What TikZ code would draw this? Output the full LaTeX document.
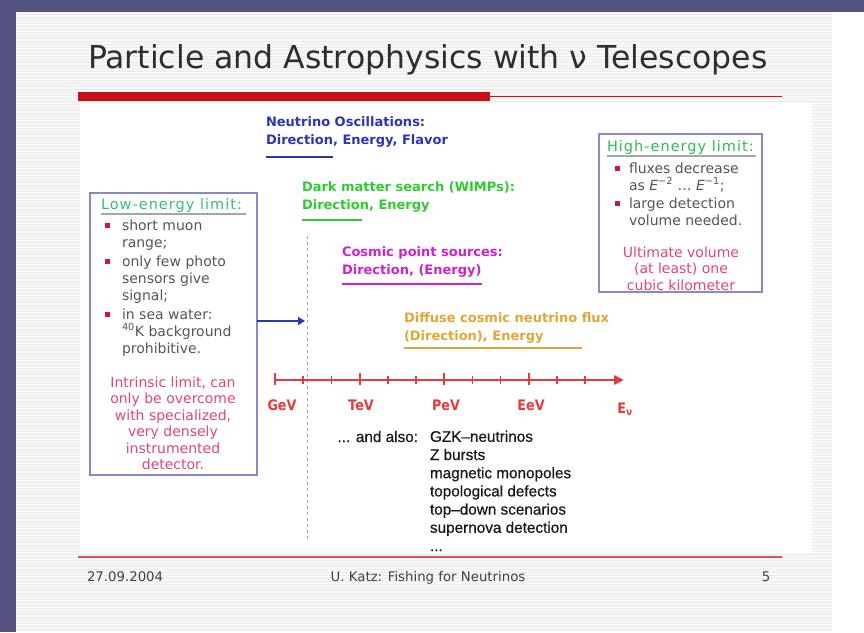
\documentclass[tikz,border=0pt]{standalone}
\usepackage{fontspec}
\setmainfont{DejaVu Sans}
\newfontfamily\condfont[FakeStretch=0.88]{DejaVu Sans}
\newfontfamily\listfont[FakeBold=0.6]{Liberation Sans}
\newfontfamily\headfont[LetterSpace=7]{DejaVu Sans}
\usetikzlibrary{arrows.meta,calc}
\definecolor{bgpurple}{HTML}{54527F}
\definecolor{slidebg}{HTML}{F8F8F8}
\definecolor{stripecol}{HTML}{EBEBEB}
\definecolor{titlegray}{HTML}{2E2E2E}
\definecolor{barred}{HTML}{C8101A}
\definecolor{footred}{HTML}{E05050}
\definecolor{oscblue}{HTML}{2B35B5}
\definecolor{dmgreen}{HTML}{2ECC2E}
\definecolor{cpsmag}{HTML}{CC22CC}
\definecolor{difforange}{HTML}{E3A634}
\definecolor{limgreen}{HTML}{36BB80}
\definecolor{higreen}{HTML}{2FBB55}
\definecolor{boxedge}{HTML}{8A88C8}
\definecolor{bodygray}{HTML}{555555}
\definecolor{pinktext}{HTML}{E0457E}
\definecolor{bulletred}{HTML}{D01538}
\definecolor{axisred}{HTML}{E83A3A}
\definecolor{dashgray}{HTML}{A8A8A8}
\newcommand{\bul}[1]{\llap{\textcolor{bulletred}{\rule[2.5pt]{5pt}{5pt}}\hspace{#1}}}
\begin{document}
\begin{tikzpicture}[x=1pt,y=-1pt,
  every node/.style={inner sep=0pt, outer sep=0pt},
  % multi-line nodes: anchor=base west puts the LAST line's baseline at the point
  toplabel/.style={anchor=base west, align=left, font=\bfseries\fontsize{13}{18}\selectfont},
  limbox/.style={draw=boxedge, line width=1.6pt, fill=white, anchor=north west},
  bodytext/.style={anchor=base west, align=left, text=bodygray, font=\fontsize{14}{17}\selectfont},
  pinkbody/.style={anchor=base, align=center, text=pinktext, font=\fontsize{14}{16.5}\selectfont},
  boxhead/.style={anchor=base west, font=\headfont\fontsize{14.5}{17}\selectfont},
  headrule/.style={draw=gray!70, line width=1.8pt},
  underbar/.style={line width=2.4pt},
  axislabel/.style={anchor=base, text=axisred, font=\condfont\bfseries\fontsize{14.5}{16}\selectfont},
  axisline/.style={draw=axisred, line width=2.6pt},
  ticksty/.style={draw=axisred, line width=1.6pt},
  listtext/.style={anchor=base west, align=left, text=black!90, font=\listfont\fontsize{15.3}{18.2}\selectfont},
  foottext/.style={anchor=base, text=black!75, font=\fontsize{13.3}{16}\selectfont}
]
\useasboundingbox (0,0) rectangle (864,632);
% background and slide
\fill[bgpurple] (0,0) rectangle (864,632);
\fill[slidebg] (16,12) rectangle (864,632);
\foreach \yy in {14,17,...,631} \draw[stripecol, line width=1pt] (16,\yy) -- (832,\yy);
\fill[white] (832,12) rectangle (864,632);
\fill[white] (80,103) rectangle (812,553);

% title and bars
\node[anchor=base west, text=titlegray, font=\fontsize{31.5}{36}\selectfont] (title) at (88,68) {Particle and Astrophysics with ν Telescopes};
\fill[barred] (78,92) rectangle (490,101);
\draw[barred, line width=1.6pt] (490,96.5) -- (782,96.5);
\draw[footred, line width=2.4pt] (78,557) -- (782,557);

% top labels (y = baseline of last line)
\node[toplabel, text=oscblue] (osc) at (266,144) {Neutrino Oscillations:\\Direction, Energy, Flavor};
\draw[oscblue, underbar] (266,157) -- (333,157);
\node[toplabel, text=dmgreen] (dm) at (302,209) {Dark matter search (WIMPs):\\Direction, Energy};
\draw[dmgreen, underbar] (302,220) -- (362,220);
\node[toplabel, text=cpsmag] (cps) at (342,274) {Cosmic point sources:\\Direction, (Energy)};
\draw[cpsmag, underbar] (342,284) -- (482,284);
\node[toplabel, text=difforange] (diff) at (404,340) {Diffuse cosmic neutrino flux\\(Direction), Energy};
\draw[difforange, underbar] (404,348) -- (582,348);

% dashed GeV/TeV guide
\coordinate (dashtop) at (307,236);
\coordinate (dashbot) at (307,542);
\draw[dashgray, line width=1pt, dash pattern=on 3pt off 3pt] (dashtop) -- (dashbot);

% low-energy box
\node[limbox, minimum width=167, minimum height=282] (lowbox) at (90,193) {};
\node[boxhead, text=limgreen] (lowhead) at (101,209) {Low-energy limit:};
\draw[headrule] (101,214) -- (246,214);
\node[bodytext] (lowitems) at (122,353) {\bul{12pt}short muon\\range;\\[2pt]\bul{12pt}only few photo\\sensors give\\signal;\\[2pt]\bul{12pt}in sea water:\\\textsuperscript{40}K background\\prohibitive.};
\node[pinkbody] (lowpink) at (173,469.5) {Intrinsic limit, can\\only be overcome\\with specialized,\\very densely\\instrumented\\detector.};

% high-energy box
\node[limbox, minimum width=163, minimum height=158] (highbox) at (599,134) {};
\node[boxhead, text=higreen] (highhead) at (607,151) {High-energy limit:};
\draw[headrule] (607,156) -- (756,156);
\node[bodytext] (highitems) at (629,225) {\bul{9pt}fluxes decrease\\as \textit{E}\textsuperscript{−2} … \textit{E}\textsuperscript{−1};\\[1pt]\bul{9pt}large detection\\volume needed.};
\node[pinkbody] (highpink) at (681,290) {Ultimate volume\\(at least) one\\cubic kilometer};

% arrow from low-energy box
\coordinate (arrowend) at (305,321);
\draw[oscblue, line width=2.8pt, -{Triangle[length=7pt,width=8pt]}] (lowbox.east |- arrowend) -- (arrowend);

% energy axis
\coordinate (axstart) at (275,380);
\coordinate (axend) at (624,380);
\draw[axisline, -{Triangle[length=10pt,width=9pt]}] (axstart) -- (axend);
\foreach \i in {1,2,4,5,7,8,10,11} \draw[ticksty] ($(axstart)+(28.2*\i,-4)$) -- ($(axstart)+(28.2*\i,4)$);
\foreach \i in {0,3,6,9} \draw[ticksty, line width=2pt] ($(axstart)+(28.2*\i,-7)$) -- ($(axstart)+(28.2*\i,5)$);
\node[axislabel] (gev) at (282,410) {GeV};
\node[axislabel] (tev) at (361,410) {TeV};
\node[axislabel] (pev) at (446,410) {PeV};
\node[axislabel] (eev) at (531,410) {EeV};
\node[axislabel] (enu) at (625,413) {E\textsubscript{ν}};

% and also list
\node[listtext, anchor=base east] (andalso) at (418,442) {... and also:};
\node[listtext] (alsolist) at (430,551) {GZK–neutrinos\\Z bursts\\magnetic monopoles\\topological defects\\top–down scenarios\\supernova detection\\...};

% footer
\node[foottext, anchor=base west] (date) at (87,581) {27.09.2004};
\node[foottext] (author) at (428,581) {U. Katz: Fishing for Neutrinos};
\node[foottext] (page) at (766,581) {5};
\end{tikzpicture}
\end{document}
